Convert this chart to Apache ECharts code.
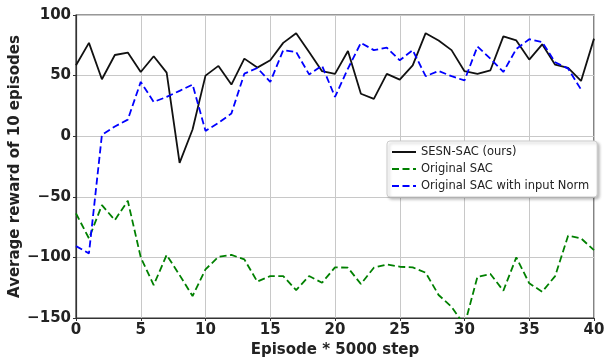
<!DOCTYPE html>
<html><head><meta charset="utf-8">
<script src="https://cdn.jsdelivr.net/npm/echarts@6/dist/echarts.min.js"></script>
<style>html,body{margin:0;padding:0;background:#fff}#c{width:606px;height:358px}</style>
</head><body><div id="c"></div>
<script>
const episodes = Array.from({length: 41}, (_, i) => i);
const sesnSac = [58.5,77,47,67,69,53,66,52.5,-22,5.5,50,58,42.6,64,56.6,62.6,77,85,69.5,53.6,51.4,70.3,35,30.8,51.4,46.7,58.5,85,79,71,53.6,51.4,54.4,82.4,79,63.2,75.8,59,56.3,45.6,80.5];
const originalSac = [-63.7,-84.3,-56.9,-69.2,-53.3,-100,-122.8,-98,-114.6,-131.9,-109.9,-99.5,-98,-101.6,-120,-115.4,-115.4,-127,-115.4,-120.9,-108.2,-108.5,-122,-108.5,-105.8,-107.7,-108.2,-112.6,-131,-140.7,-156,-116,-113.7,-127.5,-100,-121.4,-128.3,-115.4,-82.1,-84.3,-94];
const sacInputNorm = [-90.7,-96.7,1,8,13.7,44.8,28.3,32.4,37.4,42.6,4.4,11,18.7,51.6,56.3,44.8,70.9,69.5,51,58.2,32.4,55.8,77,71,73,62.6,71,49.5,53.8,49.5,46,74,64,53,72,80,77.7,61,55.8,38.5,null];
const xTicks = [0,5,10,15,20,25,30,35,40];
const yTicks = [-150,-100,-50,0,50,100];

const chart = echarts.init(document.getElementById('c'), null, {renderer:'canvas'});
const font = 'DejaVu Sans';
const pair = arr => arr.map((v,i)=>[episodes[i], v]);
chart.setOption({
  animation:false,
  backgroundColor:'#fff',
  grid:{left:76,right:12,top:15,bottom:40,containLabel:false,outerBoundsMode:'none',
    show:true,borderColor:'#333',borderWidth:1.2,backgroundColor:'transparent'},
  xAxis:{type:'value',min:xTicks[0],max:xTicks[xTicks.length-1],interval:5,
    name:'Episode * 5000 step',nameLocation:'middle',nameGap:25,nameMoveOverlap:false,
    nameTextStyle:{fontFamily:font,fontWeight:'bold',fontSize:15,color:'#222'},
    axisLine:{show:true,onZero:false,lineStyle:{color:'#333',width:1.2}},
    axisTick:{show:true,length:3,lineStyle:{color:'#333'}},
    axisLabel:{fontFamily:font,fontWeight:'bold',fontSize:15,color:'#222',margin:5},
    splitLine:{show:true,lineStyle:{color:'#c8c8c8',width:1}}},
  yAxis:{type:'value',min:yTicks[0],max:yTicks[yTicks.length-1],interval:50,
    name:'Average reward of 10 episodes',nameLocation:'middle',nameGap:53,nameMoveOverlap:false,
    nameTextStyle:{fontFamily:font,fontWeight:'bold',fontSize:15,color:'#222'},
    axisLine:{show:true,onZero:false,lineStyle:{color:'#333',width:1.2}},
    axisTick:{show:true,length:3,lineStyle:{color:'#333'}},
    axisLabel:{fontFamily:font,fontWeight:'bold',fontSize:15,color:'#222',margin:5,
      formatter:v=>String(v).replace('-','\u2212')},
    splitLine:{show:true,lineStyle:{color:'#c8c8c8',width:1}}},
  legend:{orient:'vertical',left:387,top:141,itemWidth:24,itemHeight:8,itemGap:5,
    padding:[5,8,5,4],backgroundColor:'#fff',borderColor:'#ccc',borderWidth:1,borderRadius:3,
    shadowColor:'rgba(0,0,0,0.25)',shadowBlur:3,shadowOffsetX:2,shadowOffsetY:2,
    itemStyle:{color:'transparent',borderWidth:0,opacity:0},
    textStyle:{fontFamily:font,fontSize:11.5,color:'#222'},
    data:['SESN-SAC (ours)','Original SAC','Original SAC with input Norm']},
  series:[
    {name:'SESN-SAC (ours)',type:'line',data:pair(sesnSac),symbol:'none',clip:true,
      lineStyle:{color:'#111',width:1.8},itemStyle:{color:'#111'}},
    {name:'Original SAC',type:'line',data:pair(originalSac),symbol:'none',clip:true,
      lineStyle:{color:'#008000',width:1.8,type:[7,3.5]},itemStyle:{color:'#008000'}},
    {name:'Original SAC with input Norm',type:'line',data:pair(sacInputNorm),symbol:'none',clip:true,
      lineStyle:{color:'#0000ff',width:1.8,type:[7,3.5]},itemStyle:{color:'#0000ff'}}
  ]
});
</script></body></html>
